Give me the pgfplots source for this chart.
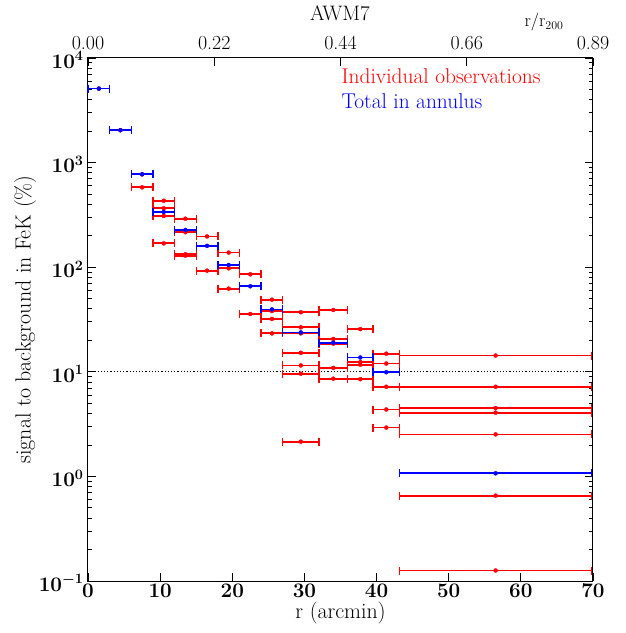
\documentclass[border=0pt]{standalone}
\usepackage{pgfplots}
\usepackage{pgfplotstable}
\pgfplotsset{compat=1.18}
\pgfplotstableread{
x y dx
1.5 5100 1.5
4.5 2040 1.5
7.5 773 1.5
7.5 580 1.5
10.5 432 1.5
10.5 366 1.5
10.5 309 1.5
10.5 169 1.5
13.5 291 1.5
13.5 216 1.5
13.5 133 1.5
13.5 129 1.5
16.5 197 1.5
16.5 92.7 1.5
19.5 138 1.5
19.5 97.5 1.5
19.5 62.4 1.5
22.5 85.5 1.5
22.5 35.7 1.5
25.5 48.9 1.5
25.5 38.1 1.5
25.5 32.0 1.5
25.5 23.3 1.5
29.5 37.1 2.5
29.5 26.6 2.5
29.5 23.3 2.5
29.5 15.2 2.5
29.5 11.5 2.5
29.5 9.6 2.5
29.5 2.15 2.5
34 39.0 2
34 20.6 2
34 18.6 2
34 10.9 2
34 8.6 2
37.75 25.6 1.75
37.75 12.4 1.75
37.75 11.7 1.75
37.75 8.5 1.75
41.35 14.9 1.85
41.35 12.0 1.85
41.35 7.2 1.85
41.35 4.36 1.85
41.35 2.93 1.85
56.5 14.3 13.3
56.5 7.2 13.3
56.5 4.5 13.3
56.5 4.07 13.3
56.5 2.52 13.3
56.5 0.655 13.3
56.5 0.126 13.3
}\redtab
\pgfplotstableread{
x y dx
1.5 5100 1.5
4.5 2040 1.5
7.5 773 1.5
10.5 337 1.5
13.5 227 1.5
16.5 160 1.5
19.5 105 1.5
22.5 65.7 1.5
25.5 39.5 1.5
29.5 23.8 2.5
34 19.0 2
37.75 13.7 1.75
41.35 9.9 1.85
56.5 1.07 13.3
}\bluetab
\begin{document}
\begin{tikzpicture}
\path[use as bounding box] (-88bp,-52bp) rectangle (538bp,581bp);
\pgfplotsset{
  ebar/.style={
    #1, only marks, mark=*, mark size=2bp,
    error bars/x dir=both, error bars/x explicit,
    error bars/error mark=none,
    error bars/error bar style={line width=1.8bp, #1}
  },
  ecap/.style={
    #1, only marks, mark=|, mark size=4bp,
    mark options={line width=1.3bp, #1}
  }
}
\begin{axis}[
  at={(0,0)}, anchor=south west,
  width=505bp, height=523bp, scale only axis,
  xmin=0, xmax=70, ymin=0.1, ymax=1e4, ymode=log,
  xtick={0,10,...,70}, xtick pos=bottom, ytick pos=both,
  tick align=inside,
  major tick length=8bp, minor tick length=4bp,
  axis line style={line width=1bp},
  tick style={line width=0.8bp, black},
  tick label style={font=\boldmath\fontsize{20}{22}\selectfont},
  label style={font=\fontsize{22}{25}\selectfont},
  xlabel={r (arcmin)},
  ylabel={signal to background in FeK (\%)},
  xlabel style={yshift=3bp},
  ylabel style={yshift=-4bp},
  yticklabel style={xshift=-1bp, yshift=-2bp},
  clip=false,
]
\addplot[black, dotted, line width=1.2bp, forget plot] coordinates {(0,10) (70,10)};
% individual observations
\addplot[ebar=red] table[x=x, y=y, x error=dx] {\redtab};
\addplot[ecap=red] table[x expr=\thisrow{x}-\thisrow{dx}, y=y] {\redtab};
\addplot[ecap=red] table[x expr=\thisrow{x}+\thisrow{dx}, y=y] {\redtab};
% total in annulus
\addplot[ebar=blue] table[x=x, y=y, x error=dx] {\bluetab};
\addplot[ecap=blue] table[x expr=\thisrow{x}-\thisrow{dx}, y=y] {\bluetab};
\addplot[ecap=blue] table[x expr=\thisrow{x}+\thisrow{dx}, y=y] {\bluetab};
\node[anchor=west, text=red, font=\fontsize{21.5}{23}\selectfont, inner sep=0pt] at (rel axis cs:0.502,0.965) {Individual observations};
\node[anchor=west, text=blue, font=\fontsize{21.5}{23}\selectfont, inner sep=0pt] at (rel axis cs:0.502,0.917) {Total in annulus};
\end{axis}
\begin{axis}[
  at={(0,0)}, anchor=south west,
  width=505bp, height=523bp, scale only axis,
  xmin=0, xmax=70, ymin=0, ymax=1,
  axis x line*=top, axis y line=none,
  xtick={0,17.5,35,52.5,70},
  xticklabels={0.00,0.22,0.44,0.66,0.89},
  tick align=inside, major tick length=8bp,
  axis line style={line width=1bp},
  tick style={line width=0.8bp, black},
  tick label style={font=\boldmath\fontsize{20}{22}\selectfont},
  xticklabel style={yshift=5bp},
]
\end{axis}
\node[font=\fontsize{21}{23}\selectfont] at (252bp,568bp) {AWM7};
\node[font=\fontsize{18}{20}\selectfont] at (456bp,559bp) {r/r$_{200}$};
\end{tikzpicture}
\end{document}
